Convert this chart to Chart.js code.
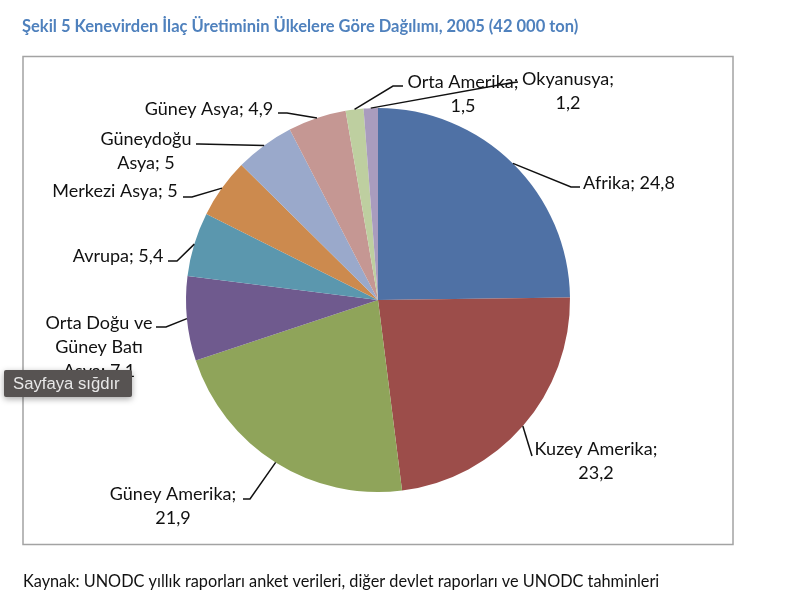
<!DOCTYPE html>
<html lang="tr">
<head>
<meta charset="utf-8">
<title>Şekil 5</title>
<script src="https://cdn.jsdelivr.net/npm/chart.js@4/dist/chart.umd.min.js"></script>
<style>
    html, body { margin: 0; padding: 0; background: #fff; }
    canvas { display: block; }
</style>
</head>
<body>
<canvas id="pie" width="800" height="607"></canvas>
<script>
// Données
const categories = ['Afrika', 'Kuzey Amerika', 'Güney Amerika', 'Orta Doğu ve Güney Batı Asya', 'Avrupa', 'Merkezi Asya', 'Güneydoğu Asya', 'Güney Asya', 'Orta Amerika', 'Okyanusya'];
const values = [24.8, 23.2, 21.9, 7.1, 5.4, 5, 5, 4.9, 1.5, 1.2];
const colors = ['#4f71a5', '#9c4d4a', '#8fa45a', '#6f5a8e', '#5b97ae', '#cc8a4e', '#9aa9cb', '#c59793', '#becfa0', '#a99cbe'];

const titleText = 'Şekil 5 Kenevirden İlaç Üretiminin Ülkelere Göre Dağılımı, 2005 (42 000 ton)';
const sourceText = 'Kaynak: UNODC yıllık raporları anket verileri, diğer devlet raporları ve UNODC tahminleri';

// Lignes de texte de chaque étiquette
const labelLines = [
    ['Afrika; 24,8'],
    ['Kuzey Amerika;', '23,2'],
    ['Güney Amerika;', '21,9'],
    ['Orta Doğu ve', 'Güney Batı', 'Asya; 7,1'],
    ['Avrupa; 5,4'],
    ['Merkezi Asya; 5'],
    ['Güneydoğu', 'Asya; 5'],
    ['Güney Asya; 4,9'],
    ['Orta Amerika;', '1,5'],
    ['Okyanusya;', '1,2']
];

// Placement : centre du texte [x, y première ligne], coudes du trait de rappel
const labelCenters = [[629, 183], [596, 449], [173, 494], [99, 323], [118, 256], [115, 191], [146, 139], [209, 109], [463, 82], [568, 79]];
const leaderElbows = [
    [[571, 187], [580, 187]],
    [[532, 456]],
    [[250, 499], [243, 499]],
    [[166, 327], [156, 327]],
    [[177, 261], [168, 261]],
    [[192, 197], [183, 197]],
    [[199, 144], [196, 144]],
    [[287, 113], [278, 113]],
    [[393, 86], [403, 86]],
    [[510, 83], [518, 82]]
];

const habillage = {
    id: 'habillage',
    beforeDraw(chart) {
        const c = chart.ctx;
        c.save();
        c.fillStyle = '#fff';
        c.fillRect(0, 0, 800, 607);
        c.strokeStyle = '#a3a3a3';
        c.lineWidth = 1.5;
        c.strokeRect(23, 56.5, 710, 488);
        c.textBaseline = 'middle';
        c.textAlign = 'left';
        c.fillStyle = '#4f81bd';
        c.font = 'bold 16.5px Lato';
        c.fillText(titleText, 22, 27);
        c.fillStyle = '#111';
        c.font = '16.3px Lato';
        c.fillText(sourceText, 23, 582);
        c.restore();
    },
    afterDraw(chart) {
        const c = chart.ctx;
        const arcs = chart.getDatasetMeta(0).data;
        c.save();

        // Traits de rappel, depuis le milieu de chaque arc
        c.strokeStyle = '#111';
        c.lineWidth = 1.5;
        arcs.forEach((arc, i) => {
            const mid = (arc.startAngle + arc.endAngle) / 2;
            c.beginPath();
            c.moveTo(arc.x + Math.cos(mid) * arc.outerRadius, arc.y + Math.sin(mid) * arc.outerRadius);
            leaderElbows[i].forEach(p => c.lineTo(p[0], p[1]));
            c.stroke();
        });

        // Étiquettes
        c.fillStyle = '#111';
        c.font = '18px Lato';
        c.textAlign = 'center';
        c.textBaseline = 'middle';
        labelLines.forEach((lines, i) => {
            lines.forEach((line, k) => {
                c.fillText(line, labelCenters[i][0], labelCenters[i][1] + k * 24);
            });
        });

        // Infobulle du lecteur PDF par-dessus le graphique
        c.shadowColor = 'rgba(0,0,0,0.35)';
        c.shadowBlur = 6;
        c.shadowOffsetY = 2;
        c.fillStyle = '#575352';
        c.beginPath();
        c.roundRect(4, 370, 128, 27, 2);
        c.fill();
        c.shadowColor = 'transparent';
        c.fillStyle = '#e8e8e8';
        c.font = '16.7px "Liberation Sans"';
        c.textAlign = 'left';
        c.fillText('Sayfaya sığdır', 13, 384);
        c.restore();
    }
};

new Chart(document.getElementById('pie').getContext('2d'), {
    type: 'pie',
    data: {
        labels: categories,
        datasets: [{
            data: values,
            backgroundColor: colors,
            borderWidth: 0
        }]
    },
    options: {
        responsive: false,
        animation: false,
        layout: { padding: { left: 186, right: 230, top: 108, bottom: 115 } },
        plugins: {
            legend: { display: false },
            tooltip: { enabled: false }
        }
    },
    plugins: [habillage]
});
</script>
</body>
</html>
